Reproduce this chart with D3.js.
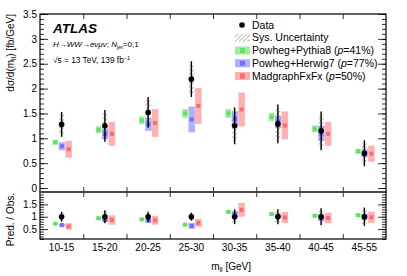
<!DOCTYPE html>
<html>
<head>
<meta charset="utf-8">
<script src="https://cdn.jsdelivr.net/npm/d3@7"></script>
<style>
  body { margin: 0; background: #fff; }
  svg { font-family: 'Liberation Sans', Arial, sans-serif; }
</style>
</head>
<body>
<svg id="chart" width="407" height="276"></svg>
<script>
// bins and measured values (main panel, fb/GeV)
var bins = ['10-15', '15-20', '20-25', '25-30', '30-35', '35-40', '40-45', '45-55']
var dataVal = [1.28, 1.25, 1.52, 2.19, 1.25, 1.29, 1.15, 0.70]
var dataErr = [0.25, 0.32, 0.31, 0.36, 0.37, 0.39, 0.39, 0.26]
var dataSys = [0.21, 0.26, 0.26, 0.30, 0.30, 0.32, 0.32, 0.21]
var pythiaVal = [0.92, 1.17, 1.36, 1.50, 1.50, 1.43, 1.19, 0.74]
var pythiaErr = [0.05, 0.07, 0.08, 0.09, 0.09, 0.08, 0.07, 0.05]
var herwigVal = [0.84, 1.09, 1.28, 1.38, 1.39, 1.33, 1.10, 0.70]
var herwigErr = [0.08, 0.11, 0.13, 0.26, 0.15, 0.12, 0.15, 0.08]
var madgraphVal = [0.78, 1.09, 1.31, 1.65, 1.58, 1.26, 1.09, 0.69]
var madgraphErr = [0.17, 0.24, 0.28, 0.36, 0.34, 0.28, 0.24, 0.16]

// ratio panel (pred / obs)
var ratioDataErr = [0.20, 0.26, 0.20, 0.16, 0.30, 0.30, 0.34, 0.37]
var ratioDataSys = [0.16, 0.21, 0.17, 0.14, 0.24, 0.25, 0.28, 0.30]
var ratioPythia = [0.72, 0.94, 0.89, 0.68, 1.20, 1.11, 1.04, 1.06]
var ratioPythiaErr = [0.04, 0.06, 0.05, 0.04, 0.07, 0.06, 0.06, 0.07]
var ratioHerwig = [0.66, 0.87, 0.84, 0.63, 1.11, 1.03, 0.96, 1.00]
var ratioHerwigErr = [0.06, 0.09, 0.09, 0.12, 0.12, 0.09, 0.13, 0.11]
var ratioMadgraph = [0.61, 0.87, 0.86, 0.75, 1.28, 0.97, 0.95, 0.98]
var ratioMadgraphErr = [0.13, 0.19, 0.18, 0.16, 0.28, 0.22, 0.21, 0.23]

var mainTicks = [0, 0.5, 1, 1.5, 2, 2.5, 3, 3.5]
var ratioTicks = [0.5, 1, 1.5]

var svg = d3.select('#chart')

// geometry
var left = 40
var right = 386
var mainTop = 14
var mainBottom = 192
var ratioBottom = 239

var x = d3.scaleBand().domain(bins).range([left, right]).padding(0)
var yMain = d3.scaleLinear().domain([-0.08, 3.5]).range([mainBottom, mainTop])
var yRatio = d3.scaleLinear().domain([0.1, 2.0]).range([ratioBottom, mainBottom])

var cx = function (i) { return x(bins[i]) + x.bandwidth() / 2 }

// hatch pattern for systematics
var defs = svg.append('defs')
defs.append('pattern')
  .attr('id', 'hatch')
  .attr('patternUnits', 'userSpaceOnUse')
  .attr('width', 3).attr('height', 3)
  .attr('patternTransform', 'rotate(45)')
  .append('line')
  .attr('x1', 0).attr('y1', 0).attr('x2', 0).attr('y2', 3)
  .attr('stroke', '#555').attr('stroke-width', 0.8)

var models = [
  { name: 'pythia', offset: -6.3, band: '#9cf09c', mark: '#5fe05f' },
  { name: 'herwig', offset: 0.3, band: '#b0b0ff', mark: '#6f6fff' },
  { name: 'madgraph', offset: 7, band: '#ffb0b0', mark: '#ff6a6a' }
]

function drawPanel (g, y, vals, errs, dVal, dErr, dSys) {
  // prediction bands + central markers
  models.forEach(function (m, k) {
    var v = vals[k]
    var e = errs[k]
    var w = k === 0 ? 5.5 : 6.5
    g.selectAll('.band-' + m.name)
      .data(d3.range(bins.length))
      .enter().append('rect')
      .attr('x', function (i) { return cx(i) + m.offset - w / 2 })
      .attr('y', function (i) { return y(v[i] + e[i]) })
      .attr('width', w)
      .attr('height', function (i) { return y(v[i] - e[i]) - y(v[i] + e[i]) })
      .attr('fill', m.band)
    g.selectAll('.mark-' + m.name)
      .data(d3.range(bins.length))
      .enter().append('rect')
      .attr('x', function (i) { return cx(i) + m.offset - 2 })
      .attr('y', function (i) { return y(v[i]) - 2 })
      .attr('width', 4)
      .attr('height', 4)
      .attr('fill', m.mark)
  })

  // data: sys hatch, error bar, dot
  var idx = d3.range(bins.length)
  g.selectAll('.sys').data(idx).enter().append('rect')
    .attr('x', function (i) { return cx(i) - 2.5 })
    .attr('y', function (i) { return y(dVal[i] + dSys[i]) })
    .attr('width', 5)
    .attr('height', function (i) { return y(dVal[i] - dSys[i]) - y(dVal[i] + dSys[i]) })
    .attr('fill', 'url(#hatch)')
  g.selectAll('.err').data(idx).enter().append('line')
    .attr('x1', cx).attr('x2', cx)
    .attr('y1', function (i) { return y(dVal[i] + dErr[i]) })
    .attr('y2', function (i) { return y(dVal[i] - dErr[i]) })
    .attr('stroke', '#000').attr('stroke-width', 1.4)
  g.selectAll('.dot').data(idx).enter().append('circle')
    .attr('cx', cx)
    .attr('cy', function (i) { return y(dVal[i]) })
    .attr('r', 2.8)
    .attr('fill', '#000')
}

var mainG = svg.append('g')
drawPanel(mainG, yMain,
  [pythiaVal, herwigVal, madgraphVal], [pythiaErr, herwigErr, madgraphErr],
  dataVal, dataErr, dataSys)

var ratioG = svg.append('g')
drawPanel(ratioG, yRatio,
  [ratioPythia, ratioHerwig, ratioMadgraph], [ratioPythiaErr, ratioHerwigErr, ratioMadgraphErr],
  bins.map(function () { return 1 }), ratioDataErr, ratioDataSys)

// axes helpers
function yAxes (y, major, minorStep) {
  var lo = y.domain()[0]
  var hi = y.domain()[1]
  var minor = d3.range(Math.ceil(lo / minorStep) * minorStep, hi + 1e-9, minorStep)
  svg.append('g').attr('class', 'axis')
    .attr('transform', 'translate(' + left + ',0)')
    .call(d3.axisLeft(y).tickValues(minor).tickSize(-4).tickFormat(''))
  svg.append('g').attr('class', 'axis')
    .attr('transform', 'translate(' + left + ',0)')
    .call(d3.axisLeft(y).tickValues(major).tickSize(-8).tickPadding(3).tickFormat(function (d) { return String(d) }))
  svg.append('g').attr('class', 'axis')
    .attr('transform', 'translate(' + right + ',0)')
    .call(d3.axisRight(y).tickValues(minor).tickSize(-4).tickFormat(''))
  svg.append('g').attr('class', 'axis')
    .attr('transform', 'translate(' + right + ',0)')
    .call(d3.axisRight(y).tickValues(major).tickSize(-8).tickFormat(''))
}
yAxes(yMain, mainTicks, 0.1)
yAxes(yRatio, ratioTicks, 0.1)

// x ticks at bin edges
var edges = bins.slice(1).map(function (b) { return x(b) })
var xEdge = d3.scaleLinear().domain([left, right]).range([left, right])
function xTicks (yPos, size) {
  svg.append('g').attr('class', 'axis')
    .attr('transform', 'translate(0,' + yPos + ')')
    .call(d3.axisBottom(xEdge).tickValues(edges).tickSize(size).tickFormat(''))
}
xTicks(mainTop, 5)
xTicks(mainBottom, -5)
xTicks(mainBottom, 5)
xTicks(ratioBottom, -5)

// bin labels
svg.append('g').attr('class', 'axis')
  .attr('transform', 'translate(0,' + ratioBottom + ')')
  .call(d3.axisBottom(x).tickSize(0).tickPadding(5))

svg.selectAll('.axis .domain').remove()
svg.selectAll('.axis line').attr('stroke', '#000').attr('stroke-width', 0.8)
svg.selectAll('.axis text').attr('font-size', 10).attr('fill', '#000')
  .attr('font-family', "'Liberation Sans', Arial, sans-serif")

// frames
svg.append('rect').attr('x', left).attr('y', mainTop)
  .attr('width', right - left).attr('height', mainBottom - mainTop)
  .attr('fill', 'none').attr('stroke', '#000').attr('stroke-width', 1.2)
svg.append('rect').attr('x', left).attr('y', mainBottom)
  .attr('width', right - left).attr('height', ratioBottom - mainBottom)
  .attr('fill', 'none').attr('stroke', '#000').attr('stroke-width', 1.2)
svg.append('line').attr('x1', left).attr('x2', right)
  .attr('y1', mainBottom).attr('y2', mainBottom)
  .attr('stroke', '#555').attr('stroke-width', 1.6)

// axis titles
var yt = svg.append('text')
  .attr('transform', 'translate(10,' + mainTop + ') rotate(-90)')
  .attr('text-anchor', 'end')
  .attr('dy', '0.35em')
  .attr('font-size', 10)
yt.append('tspan').text('dσ/d(m')
yt.append('tspan').attr('font-size', 7).attr('dy', 2).text('ll')
yt.append('tspan').attr('dy', -2).text(') [fb/GeV]')

svg.append('text')
  .attr('transform', 'translate(10,' + (mainBottom + 1) + ') rotate(-90)')
  .attr('text-anchor', 'end')
  .attr('dy', '0.35em')
  .attr('font-size', 10)
  .text('Pred. / Obs.')

var xt = svg.append('text')
  .attr('x', 251).attr('y', 270)
  .attr('text-anchor', 'end')
  .attr('font-size', 10)
xt.append('tspan').text('m')
xt.append('tspan').attr('font-size', 7).attr('dy', 2).text('ll')
xt.append('tspan').attr('dy', -2).text(' [GeV]')

// ATLAS label
svg.append('text').attr('x', 53).attr('y', 33)
  .attr('font-size', 13.5).attr('font-weight', 'bold').attr('font-style', 'italic')
  .text('ATLAS')

var proc = svg.append('text').attr('x', 53).attr('y', 47).attr('font-size', 8)
proc.append('tspan').attr('font-style', 'italic').text('H')
proc.append('tspan').text('→')
proc.append('tspan').attr('font-style', 'italic').text('WW')
proc.append('tspan').text('→')
proc.append('tspan').attr('font-style', 'italic').text('eνμν')
proc.append('tspan').text('; ')
proc.append('tspan').attr('font-style', 'italic').text('N')
proc.append('tspan').attr('font-size', 5.5).attr('dy', 1.5).text('jet')
proc.append('tspan').attr('dy', -1.5).text('=0,1')

var en = svg.append('text').attr('x', 53).attr('y', 63).attr('font-size', 8.3)
en.append('tspan').text('√s = 13 TeV, 139 fb')
en.append('tspan').attr('font-size', 5.5).attr('dy', -3).text('−1')

// legend
var legendLabels = ['Data', 'Sys. Uncertainty', 'Powheg+Pythia8 (', 'Powheg+Herwig7 (', 'MadgraphFxFx (']
var legendP = ['', '', '41%)', '77%)', '50%)']
var legY = d3.scalePoint().domain(d3.range(legendLabels.length)).range([25, 76])
var leg = svg.append('g')
legendLabels.forEach(function (lab, i) {
  var yy = legY(i)
  if (i === 0) {
    leg.append('circle').attr('cx', 242).attr('cy', yy).attr('r', 2.8).attr('fill', '#000')
  } else if (i === 1) {
    leg.append('rect').attr('x', 235).attr('y', yy - 4).attr('width', 15).attr('height', 8)
      .attr('fill', 'url(#hatch)')
  } else {
    var m = models[i - 2]
    leg.append('rect').attr('x', 235).attr('y', yy - 4).attr('width', 15).attr('height', 8)
      .attr('fill', m.band)
    leg.append('rect').attr('x', 240).attr('y', yy - 2.5).attr('width', 5).attr('height', 5)
      .attr('fill', m.mark)
  }
  var t = leg.append('text').attr('x', 252).attr('y', yy).attr('dy', '0.35em').attr('font-size', 10.5)
  t.append('tspan').text(lab)
  if (legendP[i]) {
    t.append('tspan').attr('font-style', 'italic').text('p')
    t.append('tspan').text('=' + legendP[i])
  }
})
</script>
</body>
</html>
